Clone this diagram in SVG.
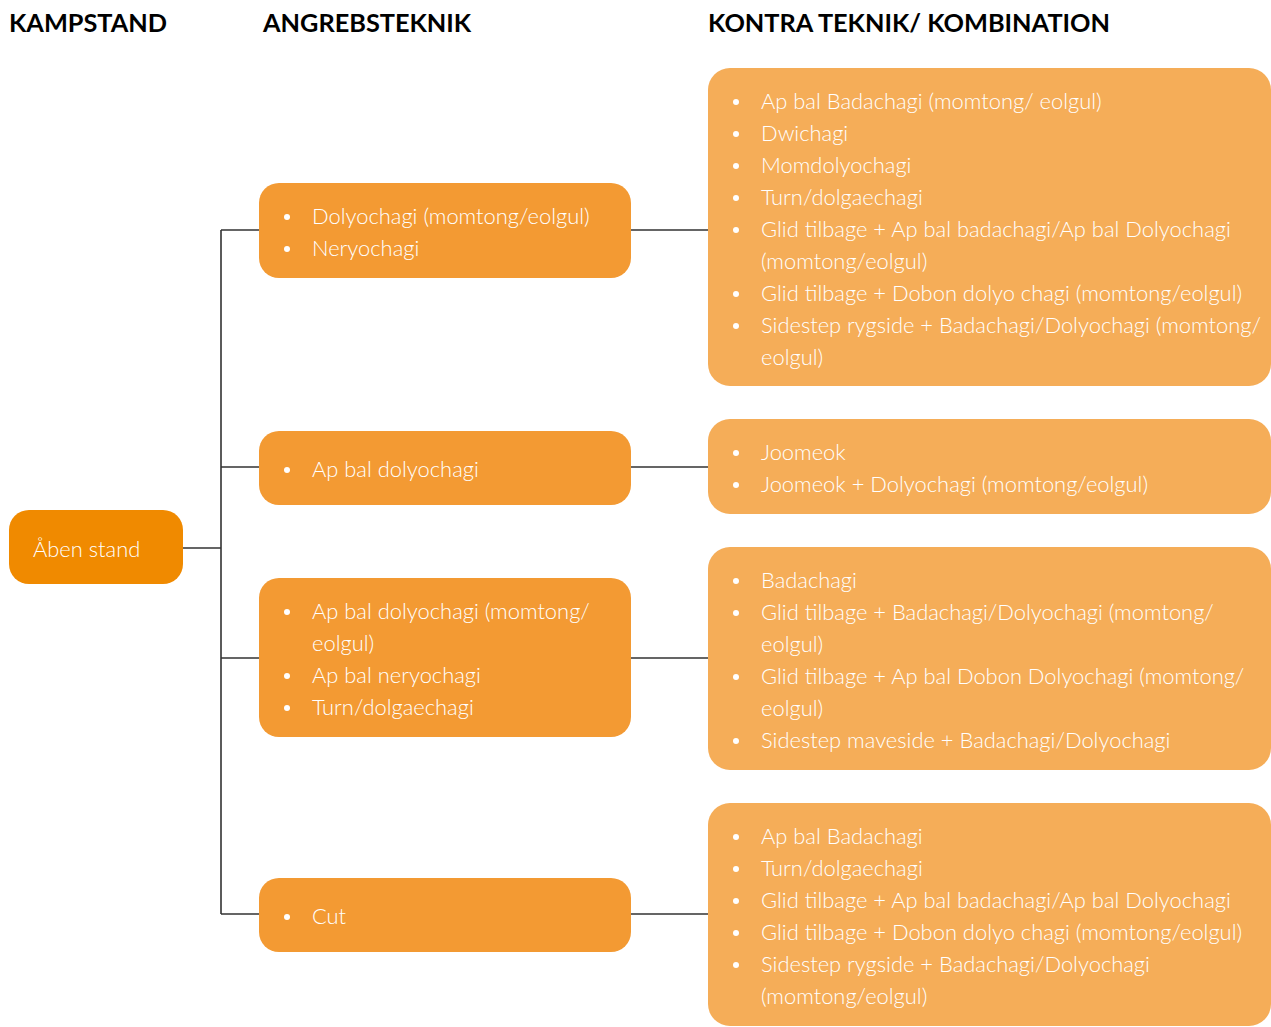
<svg xmlns="http://www.w3.org/2000/svg" width="1271" height="1027" viewBox="0 0 1271 1027">
<style>
.h{font-family:"Lato","Liberation Sans",sans-serif;font-weight:700;font-size:25.3px;fill:#000}
.t{font-family:"Lato","Open Sans",sans-serif;font-weight:300;font-size:21.9px;fill:#fff}
.root{fill:#F08A00}
.mid{fill:#F39A33}
.right{fill:#F5AD58}
.c{stroke:#333;stroke-width:1.6;fill:none}
.b{fill:#fff}
</style>
<rect width="1271" height="1027" fill="#fff"/>
<text class="h" x="9" y="32">KAMPSTAND</text>
<text class="h" x="263" y="32">ANGREBSTEKNIK</text>
<text class="h" x="708" y="32">KONTRA TEKNIK/ KOMBINATION</text>
<g id="connectors">
<path class="c" d="M183,548H221M221,230V914M221,230H259M221,467H259M221,658H259M221,914H259"/>
<path class="c" d="M631,230H708M631,467H708M631,658H708M631,914H708"/>
</g>
<g id="root">
<rect class="root" x="9" y="510" width="174" height="74" rx="20"/>
<text class="t" x="33" y="557">Åben stand</text>
</g>
<g id="m1">
<rect class="mid" x="259" y="183" width="372" height="95" rx="20"/>
<circle class="b" cx="287" cy="217" r="3"/><text class="t" x="312" y="224">Dolyochagi (momtong/eolgul)</text>
<circle class="b" cx="287" cy="249" r="3"/><text class="t" x="312" y="256">Neryochagi</text>
</g>
<g id="m2">
<rect class="mid" x="259" y="431" width="372" height="74" rx="20"/>
<circle class="b" cx="287" cy="470" r="3"/><text class="t" x="312" y="477">Ap bal dolyochagi</text>
</g>
<g id="m3">
<rect class="mid" x="259" y="578" width="372" height="159" rx="20"/>
<circle class="b" cx="287" cy="612" r="3"/><text class="t" x="312" y="619">Ap bal dolyochagi (momtong/</text>
<text class="t" x="312" y="651">eolgul)</text>
<circle class="b" cx="287" cy="676" r="3"/><text class="t" x="312" y="683">Ap bal neryochagi</text>
<circle class="b" cx="287" cy="708" r="3"/><text class="t" x="312" y="715">Turn/dolgaechagi</text>
</g>
<g id="m4">
<rect class="mid" x="259" y="878" width="372" height="74" rx="20"/>
<circle class="b" cx="287" cy="917" r="3"/><text class="t" x="312" y="924">Cut</text>
</g>
<g id="r1">
<rect class="right" x="708" y="68" width="563" height="318" rx="22"/>
<circle class="b" cx="736" cy="102" r="3"/><text class="t" x="761" y="109">Ap bal Badachagi (momtong/ eolgul)</text>
<circle class="b" cx="736" cy="134" r="3"/><text class="t" x="761" y="141">Dwichagi</text>
<circle class="b" cx="736" cy="166" r="3"/><text class="t" x="761" y="173">Momdolyochagi</text>
<circle class="b" cx="736" cy="198" r="3"/><text class="t" x="761" y="205">Turn/dolgaechagi</text>
<circle class="b" cx="736" cy="230" r="3"/><text class="t" x="761" y="237">Glid tilbage + Ap bal badachagi/Ap bal Dolyochagi</text>
<text class="t" x="761" y="269">(momtong/eolgul)</text>
<circle class="b" cx="736" cy="294" r="3"/><text class="t" x="761" y="301">Glid tilbage + Dobon dolyo chagi (momtong/eolgul)</text>
<circle class="b" cx="736" cy="326" r="3"/><text class="t" x="761" y="333">Sidestep rygside + Badachagi/Dolyochagi (momtong/</text>
<text class="t" x="761" y="365">eolgul)</text>
</g>
<g id="r2">
<rect class="right" x="708" y="419" width="563" height="95" rx="22"/>
<circle class="b" cx="736" cy="453" r="3"/><text class="t" x="761" y="460">Joomeok</text>
<circle class="b" cx="736" cy="485" r="3"/><text class="t" x="761" y="492">Joomeok + Dolyochagi (momtong/eolgul)</text>
</g>
<g id="r3">
<rect class="right" x="708" y="547" width="563" height="223" rx="22"/>
<circle class="b" cx="736" cy="581" r="3"/><text class="t" x="761" y="588">Badachagi</text>
<circle class="b" cx="736" cy="613" r="3"/><text class="t" x="761" y="620">Glid tilbage + Badachagi/Dolyochagi (momtong/</text>
<text class="t" x="761" y="652">eolgul)</text>
<circle class="b" cx="736" cy="677" r="3"/><text class="t" x="761" y="684">Glid tilbage + Ap bal Dobon Dolyochagi (momtong/</text>
<text class="t" x="761" y="716">eolgul)</text>
<circle class="b" cx="736" cy="741" r="3"/><text class="t" x="761" y="748">Sidestep maveside + Badachagi/Dolyochagi</text>
</g>
<g id="r4">
<rect class="right" x="708" y="803" width="563" height="223" rx="22"/>
<circle class="b" cx="736" cy="837" r="3"/><text class="t" x="761" y="844">Ap bal Badachagi</text>
<circle class="b" cx="736" cy="869" r="3"/><text class="t" x="761" y="876">Turn/dolgaechagi</text>
<circle class="b" cx="736" cy="901" r="3"/><text class="t" x="761" y="908">Glid tilbage + Ap bal badachagi/Ap bal Dolyochagi</text>
<circle class="b" cx="736" cy="933" r="3"/><text class="t" x="761" y="940">Glid tilbage + Dobon dolyo chagi (momtong/eolgul)</text>
<circle class="b" cx="736" cy="965" r="3"/><text class="t" x="761" y="972">Sidestep rygside + Badachagi/Dolyochagi</text>
<text class="t" x="761" y="1004">(momtong/eolgul)</text>
</g>
</svg>
